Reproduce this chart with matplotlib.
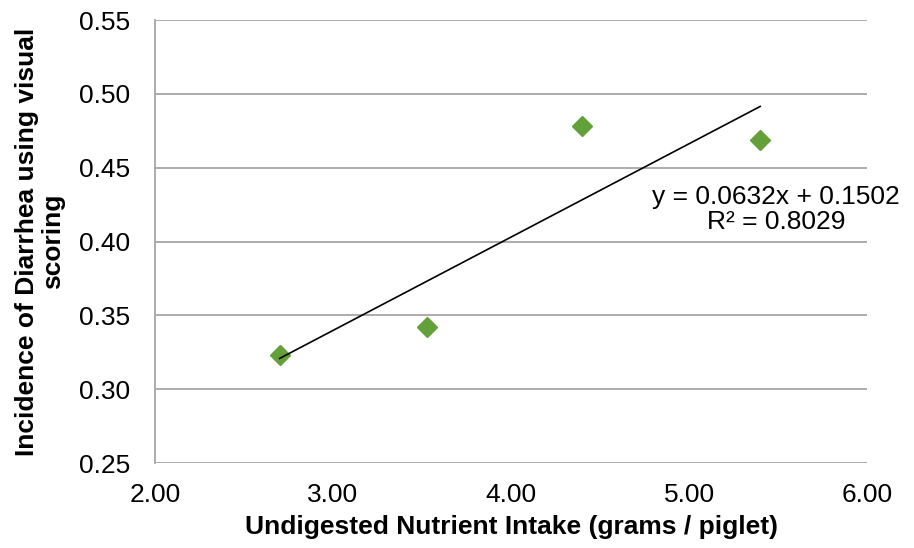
import matplotlib
matplotlib.use("Agg")
import matplotlib.pyplot as plt
import numpy as np

# values
intake = [2.70, 3.53, 4.40, 5.40]
diarrhea = [0.323, 0.342, 0.478, 0.469]
slope = 0.0632
intercept = 0.1502
r2 = 0.8029
x_ticks = [2.0, 3.0, 4.0, 5.0, 6.0]
y_ticks = [0.25, 0.30, 0.35, 0.40, 0.45, 0.50, 0.55]

plt.rcParams["font.family"] = ["Liberation Sans", "DejaVu Sans"]

fig = plt.figure(figsize=(9.14, 5.48), dpi=100)
ax = fig.add_axes([0.1696, 0.155, 0.779, 0.8085])

ax.set_xlim(2.0, 6.0)
ax.set_ylim(0.25, 0.55)
ax.set_xticks(x_ticks)
ax.set_yticks(y_ticks)
ax.set_xticklabels([f"{v:.2f}" for v in x_ticks])
ax.set_yticklabels([f"{v:.2f}" for v in y_ticks])
ax.tick_params(length=0, labelsize=19, colors="black")
ax.tick_params(axis="x", pad=14)
ax.tick_params(axis="y", pad=18)

ax.grid(axis="y", color="#a6a6a6", lw=1.3)
ax.set_axisbelow(True)
for s in ["top", "right", "bottom"]:
    ax.spines[s].set_visible(False)
ax.spines["left"].set_color("#a6a6a6")
ax.spines["left"].set_linewidth(1.3)

ax.plot(intake, diarrhea, "D", color="#63a03a", markersize=10.5, zorder=3)

# linear trendline
xs = np.array([min(intake), max(intake)])
ax.plot(xs, slope * xs + intercept, color="black", lw=1.2, zorder=4)

ax.text(5.49, 0.422, f"y = {slope}x + {intercept}\nR² = {r2}", fontsize=19,
        ha="center", va="center", linespacing=1.05)

ax.set_xlabel("Undigested Nutrient Intake (grams / piglet)", fontsize=19,
              fontweight="bold", labelpad=6)
ax.set_ylabel("Incidence of Diarrhea using visual\nscoring", fontsize=19,
              fontweight="bold", labelpad=10, linespacing=1.1)

fig.savefig("out.png", dpi=100)
